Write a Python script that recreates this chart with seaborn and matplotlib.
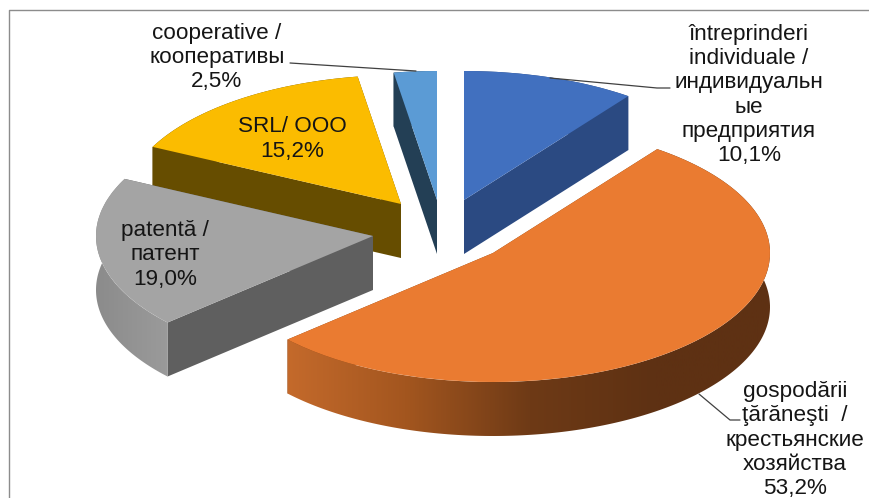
import numpy as np
import matplotlib
matplotlib.use('Agg')
import matplotlib.pyplot as plt
import seaborn as sns
from matplotlib.collections import PolyCollection
from matplotlib.colors import LinearSegmentedColormap
from matplotlib.patches import Polygon

# slice values in percent, clockwise from 12 o'clock
categories = ['intreprinderi', 'gospodarii', 'patenta', 'srl', 'cooperative']
values = [10.1, 53.2, 19.0, 15.2, 2.5]
value_labels = ['10,1%', '53,2%', '19,0%', '15,2%', '2,5%']
names = ['întreprinderi\nindividuale /\nиндивидуальн\nые\nпредприятия',
         'gospodării\nţărăneşti  /\nкрестьянские\nхозяйства',
         'patentă /\nпатент',
         'SRL/ ООО',
         'cooperative /\nкооперативы']

top_colors = ['#4170BF', '#EA7B31', '#A4A4A4', '#FBBC00', '#5B9BD5']
cut_colors = ['#2B4A82', '#7A3E14', '#5F5F5F', '#664D00', '#233F55']

# apex of every exploded slice in image pixels
apex_x = [464, 493, 373, 401, 437]
apex_y = [200, 253, 236, 204, 200]
label_x = [749, 795, 165, 292, 217]
label_y = [95, 440, 255, 139, 57.5]

W, H = 869, 498
RX, RY = 277.0, 129.0
DEPTH = 54

# wall shading along x for the two slices whose outer wall shows
orange_wall = LinearSegmentedColormap.from_list('o', ['#C66B2C', '#A3561F', '#6E3A16', '#5E3113', '#5E3113'])
grey_wall = LinearSegmentedColormap.from_list('g', ['#8A8A8A', '#9C9C9C'])
wall_maps = {1: orange_wall, 2: grey_wall}


def to_x(px):
    return px / RX


def to_y(py):
    return (H - py) / RY


sns.set_theme(style='white')
plt.rcParams['font.family'] = ['Liberation Sans', 'DejaVu Sans']

fig = plt.figure(figsize=(W / 100, H / 100), dpi=100)
ax = fig.add_axes([0, 0, 1, 1])

starts = np.cumsum([0] + values[:-1]) * 3.6
ends = np.cumsum(values) * 3.6
ramp = np.linspace(0, 1, 256).reshape(1, -1)

# back slices first, the orange one overlaps everything
for z, i in enumerate([0, 4, 3, 2, 1]):
    cx, cy = apex_x[i], apex_y[i]
    a0, a1 = np.radians(starts[i]), np.radians(ends[i])
    d = DEPTH / RY
    base = 10 * (z + 1)

    # cut faces
    faces = []
    for a in (a0, a1):
        ex, ey = to_x(cx) + np.sin(a), to_y(cy) + np.cos(a)
        faces.append([(to_x(cx), to_y(cy)), (ex, ey), (ex, ey - d), (to_x(cx), to_y(cy) - d)])
    ax.add_collection(PolyCollection(faces, facecolors=cut_colors[i], edgecolors='none', zorder=base))

    # outer wall
    angs = np.linspace(a0, a1, 200)
    xs = to_x(cx) + np.sin(angs)
    ys = to_y(cy) + np.cos(angs)
    outline = np.vstack([np.column_stack([xs, ys]), np.column_stack([xs[::-1], ys[::-1] - d])])
    if i in wall_maps:
        # ramp runs a bit past the wall so the clip never shows its ends
        left, right = (to_x(280), to_x(780)) if i == 1 else (to_x(90), to_x(175))
        im = ax.imshow(ramp, cmap=wall_maps[i], aspect='auto', zorder=base + 1,
                       extent=(left, right, to_y(H), to_y(0)))
        clip = Polygon(outline, transform=ax.transData)
        im.set_clip_path(clip)
    else:
        ax.add_patch(Polygon(outline, facecolor=cut_colors[i], edgecolor='none', zorder=base + 1))

    # top face
    ax.pie([values[i], 100 - values[i]], colors=[top_colors[i], 'none'], startangle=90 - starts[i],
           counterclock=False, center=(to_x(cx), to_y(cy)), radius=1, frame=True,
           wedgeprops={'linewidth': 0, 'zorder': base + 2})

ax.set_aspect('auto')
ax.set_xlim(0, to_x(W))
ax.set_ylim(to_y(H), to_y(0))
ax.set_xticks([])
ax.set_yticks([])
for s in ax.spines.values():
    s.set_visible(False)

# leader lines
lead_color = '#404040'
ax.plot(to_x(np.array([290, 416])), to_y(np.array([63, 71])), color=lead_color, lw=0.9, zorder=100)
ax.plot(to_x(np.array([550, 657, 670])), to_y(np.array([78, 88, 88])), color=lead_color, lw=0.9, zorder=100)
ax.plot(to_x(np.array([699, 730, 740])), to_y(np.array([394, 420, 420])), color=lead_color, lw=0.9, zorder=100)

# labels
for i in range(len(values)):
    ax.text(to_x(label_x[i]), to_y(label_y[i]), names[i] + '\n' + value_labels[i],
            ha='center', va='center', fontsize=16.2, color='#151515', linespacing=1.19, zorder=100)

# chart frame, only left and top show in the picture
ax.plot(to_x(np.array([8.5, 8.5, W])), to_y(np.array([H, 10, 10])), color='#8C8C8C', lw=1.0, zorder=100)

fig.savefig('out.png', dpi=100)
